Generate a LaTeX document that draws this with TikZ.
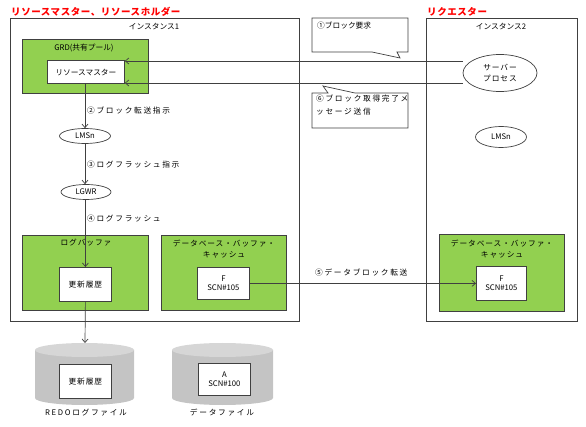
\documentclass[tikz,border=0pt]{standalone}
\usepackage{fontspec}
\setmainfont{Noto Sans CJK JP}
\newfontfamily\jpw[LetterSpace=22]{Noto Sans CJK JP}
\newfontfamily\jpm[LetterSpace=12]{Noto Sans CJK JP}
\newfontfamily\jpt[LetterSpace=6]{Noto Sans CJK JP}
\usetikzlibrary{arrows.meta,shapes.geometric,calc}
\definecolor{grn}{HTML}{92D050}
\definecolor{edge}{HTML}{404040}
\definecolor{cylbody}{HTML}{C4C4C4}
\definecolor{cyltop}{HTML}{D6D6D6}
\begin{document}
\begin{tikzpicture}[x=1pt,y=-1pt,
  font=\fontsize{7.7}{9.5}\selectfont,
  wide/.style={font=\fontsize{7.7}{11}\jpw},
  mid/.style={font=\fontsize{7.7}{11}\jpm},
  inst/.style={draw=edge,line width=0.8pt,anchor=north west,inner sep=0pt},
  gbox/.style={draw=edge,fill=grn,line width=0.8pt,anchor=north west,inner sep=0pt},
  wbox/.style={draw=edge,fill=white,line width=0.8pt,anchor=north west,inner sep=0pt,align=center},
  proc/.style={draw=edge,fill=white,ellipse,line width=0.7pt,inner sep=0pt,align=center},
  arr/.style={draw=edge,line width=0.7pt,-{Straight Barb[length=3.5pt,width=6pt]}},
  lbl/.style={anchor=west,inner sep=0pt},
  ttl/.style={text=red,font=\fontsize{9.5}{10}\jpt\bfseries,anchor=west,inner sep=0pt},
  callout/.style={draw=edge,fill=white,line width=0.7pt}]
\useasboundingbox (0,0) rectangle (586,427);
% titles
\node[ttl] (t1) at (11,12) {リソースマスター、リソースホルダー};
\node[ttl] (t2) at (427,12) {リクエスター};
% instances
\node[inst,minimum width=289pt,minimum height=303pt] (inst1) at (10,18) {};
\node[inst,minimum width=151pt,minimum height=303pt] (inst2) at (426,18) {};
\node[inner sep=0pt] (i1l) at (154,27) {インスタンス1};
\node[inner sep=0pt] (i2l) at (501,27) {インスタンス2};
% GRD
\node[gbox,minimum width=126pt,minimum height=54pt] (grd) at (22,39) {};
\node[inner sep=0pt] (grdl) at (84,48) {GRD(共有プール)};
\node[wbox,minimum width=77pt,minimum height=23pt] (resm) at (47,60.5) {リソースマスター};
% server process
\node[proc,minimum width=74pt,minimum height=37pt,mid] (srv) at (500,73) {サーバー\\プロセス};
\coordinate (y1) at (0,61);
\coordinate (y2) at (0,83);
\draw[arr] (srv.west |- y1) -- (resm.east |- y1);
\draw[arr] (srv.west |- y2) -- (resm.east |- y2);
% callouts
\draw[callout] (312,18) -- (408,18) -- (408,52) -- (397,52) -- (400,58) -- (372,52) -- (312,52) -- cycle;
\node[lbl,anchor=north west] (c1) at (317,22) {①ブロック要求};
\draw[callout] (312,93) -- (328,93) -- (323,86) -- (355,93) -- (408,93) -- (408,128) -- (312,128) -- cycle;
\node[lbl,anchor=north west,align=left,wide,font=\fontsize{7.7}{13}\jpw] (c6) at (316,95) {⑥ブロック取得完了メ\\ッセージ送信};
% LMSn, LGWR
\node[proc,minimum width=51pt,minimum height=15pt] (lms1) at (85,136) {LMSn};
\node[proc,minimum width=51pt,minimum height=21pt] (lms2) at (501,137) {LMSn};
\node[proc,minimum width=50pt,minimum height=15pt] (lgwr) at (86,192) {LGWR};
% buffers
\node[gbox,minimum width=126pt,minimum height=75pt] (logbuf) at (22,235) {};
\node[inner sep=0pt,mid] (logbufl) at (86,243) {ログバッファ};
\node[wbox,minimum width=52pt,minimum height=34pt,mid] (upd1) at (59,267) {更新履歴};
\node[gbox,minimum width=125pt,minimum height=75pt] (db1) at (161,235) {};
\node[inner sep=0pt,align=center,mid] (db1l) at (224,249) {データベース・バッファ・\\キャッシュ};
\node[wbox,minimum width=52pt,minimum height=32pt] (f1) at (197,267) {F\\SCN\#105};
\node[gbox,minimum width=125pt,minimum height=77pt] (db2) at (439,234) {};
\node[inner sep=0pt,align=center,mid] (db2l) at (502,249) {データベース・バッファ・\\キャッシュ};
\node[wbox,minimum width=50pt,minimum height=34pt] (f2) at (476,266) {F\\SCN\#105};
% cylinders
\fill[cylbody] (35,350) -- (35,398) arc[start angle=180,end angle=360,x radius=49.5pt,y radius=7pt] -- (134,350) -- cycle;
\fill[cyltop] (84.5,350) ellipse[x radius=49.5pt,y radius=7pt];
\fill[cylbody] (172,350) -- (172,398) arc[start angle=180,end angle=360,x radius=50.5pt,y radius=7pt] -- (273,350) -- cycle;
\fill[cyltop] (222.5,350) ellipse[x radius=50.5pt,y radius=7pt];
\coordinate (redotop) at (85,343);
\node[wbox,minimum width=52pt,minimum height=34pt,mid] (upd2) at (59,364) {更新履歴};
\node[wbox,minimum width=52pt,minimum height=32pt] (a1) at (198,363) {A\\SCN\#100};
\node[inner sep=0pt,wide] (redol) at (86,413) {REDOログファイル};
\node[inner sep=0pt,wide] (datal) at (222,413) {データファイル};
% flow arrows
\draw[arr] (resm.south -| lms1.north) -- (lms1.north);
\node[lbl,wide] (s2) at (87,111) {②ブロック転送指示};
\draw[arr] (lms1.south) -- (lms1.south |- lgwr.north);
\node[lbl,wide] (s3) at (87,165) {③ログフラッシュ指示};
\draw[arr] (lgwr.south -| upd1.north) -- (upd1.north);
\node[lbl,wide] (s4) at (87,219) {④ログフラッシュ};
\draw[arr] (upd1.south) -- (redotop);
\draw[arr] (f1.east) -- (f1.east -| f2.west);
\node[lbl,wide] (s5) at (315,273) {⑤データブロック転送};
\end{tikzpicture}
\end{document}
